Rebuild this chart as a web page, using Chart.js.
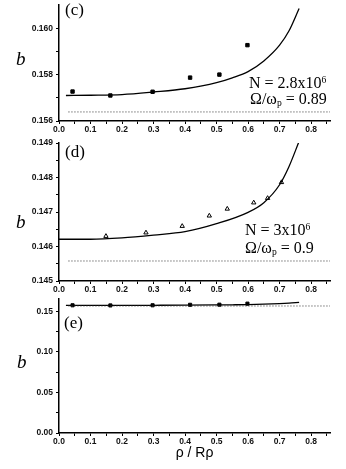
<!DOCTYPE html>
<html><head><meta charset="utf-8">
<script src="https://cdn.jsdelivr.net/npm/chart.js@4.4.1/dist/chart.umd.min.js"></script>
<style>
html,body{margin:0;padding:0;background:#fff;}
#wrap{position:relative;width:346px;height:469px;overflow:hidden;background:#fff;}
canvas{position:absolute;left:0;}
.t{position:absolute;line-height:0;white-space:nowrap;font-family:'Liberation Serif','Times New Roman',serif;color:#000;}
.sup{position:relative;top:-0.5em;font-size:0.6em;}
.sub{position:relative;top:0.3em;font-size:0.6em;}
</style></head><body>
<div id="wrap">
<canvas id="cc" width="346" height="140" style="top:0px"></canvas>
<canvas id="cd" width="346" height="170" style="top:130px"></canvas>
<canvas id="ce" width="346" height="179" style="top:290px"></canvas>

<div class="t" style="left:16px;top:58.9px;font-size:19px;font-style:italic">b</div>
<div class="t" style="left:16px;top:221.9px;font-size:19px;font-style:italic">b</div>
<div class="t" style="left:17px;top:361.9px;font-size:19px;font-style:italic">b</div>

<div class="t" style="left:65px;top:9.6px;font-size:17px">(c)</div>
<div class="t" style="left:65px;top:152.3px;font-size:17px">(d)</div>
<div class="t" style="left:64px;top:323.3px;font-size:17px">(e)</div>

<div class="t" style="left:249px;top:82.6px;font-size:16px">N = 2.8x10<span class="sup">6</span></div>
<div class="t" style="left:250px;top:98.6px;font-size:16px">Ω/ω<span class="sub">p</span> = 0.89</div>
<div class="t" style="left:245px;top:229.6px;font-size:16px">N = 3x10<span class="sup">6</span></div>
<div class="t" style="left:245px;top:247.6px;font-size:16px">Ω/ω<span class="sub">p</span> = 0.9</div>
</div>
<script>
// ---- shared x axis ----
const xMax = 0.86;
const xTickValues = [0, 0.1, 0.2, 0.3, 0.4, 0.5, 0.6, 0.7, 0.8];
const xTickLabels = ['0.0', '0.1', '0.2', '0.3', '0.4', '0.5', '0.6', '0.7', '0.8'];
const xMinorTicks = [0.05, 0.15, 0.25, 0.35, 0.45, 0.55, 0.65, 0.75, 0.85];
const xAxisTitle = 'ρ / Rρ';

// ---- panel (c) ----
const cTickValues = [0.156, 0.158, 0.160];
const cTickLabels = ['0.156', '0.158', '0.160'];
const cMinorTicks = [0.157, 0.159];
const cPointX = [0.043, 0.163, 0.297, 0.416, 0.509, 0.598];
const cPointY = [0.15727, 0.15710, 0.15726, 0.15787, 0.15800, 0.15927];
const cCurveX = [0.022, 0.1, 0.2, 0.3, 0.4, 0.5, 0.55, 0.6, 0.65, 0.7, 0.73, 0.762];
const cCurveY = [0.15710, 0.15711, 0.15714, 0.15725, 0.15739, 0.15765, 0.15786, 0.15813, 0.15859, 0.15927, 0.15989, 0.16085];
const cLimit = 0.15639;

// ---- panel (d) ----
const dTickValues = [0.145, 0.146, 0.147, 0.148, 0.149];
const dTickLabels = ['0.145', '0.146', '0.147', '0.148', '0.149'];
const dMinorTicks = [0.1455, 0.1465, 0.1475, 0.1485];
const dPointX = [0.149, 0.276, 0.391, 0.477, 0.534, 0.618, 0.662, 0.706];
const dPointY = [0.14630, 0.14640, 0.14659, 0.14689, 0.14709, 0.14727, 0.14740, 0.14786];
const dCurveX = [0, 0.1, 0.2, 0.3, 0.4, 0.5, 0.6, 0.65, 0.7, 0.73, 0.762];
const dCurveY = [0.14621, 0.14621, 0.14625, 0.14633, 0.14643, 0.14666, 0.14699, 0.14727, 0.14779, 0.14832, 0.14905];
const dLimit = 0.14558;

// ---- panel (e) (same data as (c), full scale) ----
const eTickValues = [0, 0.05, 0.10, 0.15];
const eTickLabels = ['0.00', '0.05', '0.10', '0.15'];
const eMinorTicks = [0.025, 0.075, 0.125];
const ePointX = cPointX;
const ePointY = cPointY;
const eCurveX = cCurveX;
const eCurveY = cCurveY;
const eLimit = cLimit;

const limitX = [0.03, 0.86];

const tickFont = {family: "'Liberation Sans', Arial, sans-serif", size: 8.5, weight: 'bold'};

function pts(xs, ys) { return xs.map((x, i) => ({x: x, y: ys[i]})); }
function labelFor(vals, labels) {
  return function (v) {
    const i = vals.findIndex(t => Math.abs(t - v) < 1e-9);
    return i >= 0 ? labels[i] : '';
  };
}

function makePanel(id, p) {
  const yAll = p.yMajor.concat(p.yMinor).sort((a, b) => a - b);
  const xAll = xTickValues.concat(xMinorTicks).sort((a, b) => a - b);
  const datasets = [
    {data: limitX.map(x => ({x: x, y: p.limit})), showLine: true, pointRadius: 0,
     borderColor: '#333', borderWidth: 1, borderDash: [1, 2]},
    {data: pts(p.curveX, p.curveY), showLine: true, pointRadius: 0,
     borderColor: '#000', borderWidth: 1.3, cubicInterpolationMode: 'monotone'},
    {data: pts(p.pointX, p.pointY), showLine: false, pointStyle: p.pointStyle,
     pointRadius: p.pointRadius, borderWidth: 1, borderColor: '#000', backgroundColor: p.pointFill}
  ];
  new Chart(document.getElementById(id), {
    type: 'scatter',
    data: {datasets: datasets},
    options: {
      responsive: false, animation: false, events: [],
      layout: {padding: {left: 0, right: 16, top: p.padTop, bottom: 0}},
      plugins: {legend: {display: false}, tooltip: {enabled: false}},
      scales: {
        x: {
          type: 'linear', position: 'bottom', min: 0, max: xMax,
          afterBuildTicks: s => { s.ticks = xAll.map(v => ({value: v})); },
          afterFit: s => { s.height = p.xAxisHeight; s.paddingLeft = 0; s.paddingRight = 0; },
          ticks: {autoSkip: false, maxRotation: 0, minRotation: 0, padding: 1, color: '#111',
                  font: tickFont, callback: labelFor(xTickValues, xTickLabels)},
          grid: {drawOnChartArea: false, drawTicks: true, tickLength: 3, tickColor: '#000', tickWidth: 1},
          border: {display: true, color: '#000', width: 1.5},
          title: p.title ? {display: true, text: xAxisTitle, color: '#000',
                            font: {family: "'Liberation Sans', Arial, sans-serif", size: 14},
                            padding: {top: 0, bottom: 7}} : {display: false}
        },
        y: {
          type: 'linear', position: 'left', min: p.yMin, max: p.yMax,
          afterBuildTicks: s => { s.ticks = yAll.map(v => ({value: v})); },
          afterFit: s => { s.width = 59; s.paddingTop = 0; s.paddingBottom = 0; },
          ticks: {autoSkip: false, padding: 3, color: '#111', font: tickFont,
                  callback: labelFor(p.yMajor, p.yLabels)},
          grid: {drawOnChartArea: false, drawTicks: true, tickLength: 3, tickColor: '#000', tickWidth: 1},
          border: {display: true, color: '#000', width: 1.5}
        }
      }
    }
  });
}

makePanel('cc', {yMin: 0.156, yMax: 0.161, yMajor: cTickValues, yLabels: cTickLabels, yMinor: cMinorTicks,
  padTop: 0, xAxisHeight: 19, limit: cLimit, curveX: cCurveX, curveY: cCurveY,
  pointX: cPointX, pointY: cPointY, pointStyle: 'rect', pointRadius: 2.4, pointFill: '#000'});
makePanel('cd', {yMin: 0.145, yMax: 0.149, yMajor: dTickValues, yLabels: dTickLabels, yMinor: dMinorTicks,
  padTop: 13, xAxisHeight: 19, limit: dLimit, curveX: dCurveX, curveY: dCurveY,
  pointX: dPointX, pointY: dPointY, pointStyle: 'triangle', pointRadius: 2.5, pointFill: '#fff'});
makePanel('ce', {yMin: 0, yMax: 0.165, yMajor: eTickValues, yLabels: eTickLabels, yMinor: eMinorTicks,
  padTop: 9, xAxisHeight: 36, title: true, limit: eLimit, curveX: eCurveX, curveY: eCurveY,
  pointX: ePointX, pointY: ePointY, pointStyle: 'rect', pointRadius: 2.2, pointFill: '#000'});
</script>
</body></html>
